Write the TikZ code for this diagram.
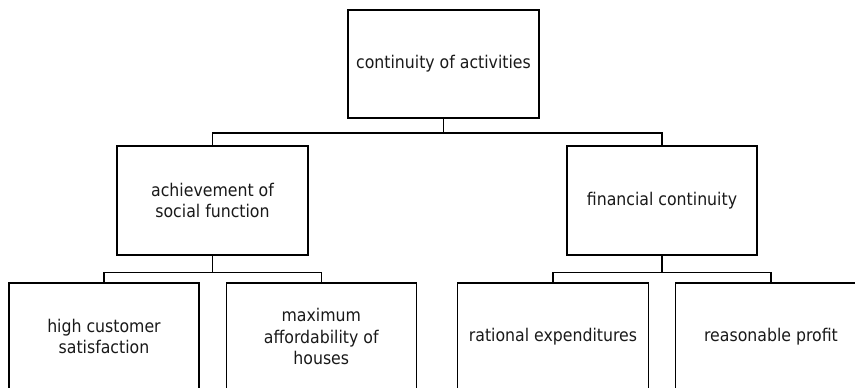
\documentclass[tikz,border=0pt]{standalone}
\usepackage{fontspec}
\setmainfont{DejaVu Sans Condensed}
\begin{document}
\begin{tikzpicture}[x=1pt,y=-1pt,
  box/.style={draw=black, line width=1.4pt, inner sep=0pt, align=center,
    font=\fontsize{17.5}{21.5}\selectfont, text=black!90},
  conn/.style={draw=black, line width=1.4pt}]
\useasboundingbox (0,0) rectangle (855,389);
\clip (0,0) rectangle (855,387.6);
\node[box, minimum width=191pt, minimum height=108pt] (top) at (443.5,64) {continuity of activities};
\node[box, minimum width=191pt, minimum height=109pt] (L) at (212.5,200.5) {achievement of\\social function};
\node[box, minimum width=190pt, minimum height=109pt] (R) at (662,200.5) {financial continuity};
\node[box, minimum width=190pt, minimum height=107pt] (A) at (104,336.5) {high customer\\satisfaction};
\node[box, minimum width=190pt, minimum height=107pt] (B) at (321.3,336.5) {maximum\\affordability of\\houses};
\node[box, minimum width=191pt, minimum height=107pt] (C) at (553,336.5) {rational expenditures};
\node[box, minimum width=191pt, minimum height=107pt] (D) at (771,336.5) {reasonable profit};
\coordinate (j0) at (443.5,133);
\coordinate (j1) at (212.5,272.7);
\coordinate (j2) at (662,272.7);
\draw[conn] (top.south) -- (j0);
\draw[conn] (L.north) |- (j0) -| (R.north);
\draw[conn] (L.south) -- (j1);
\draw[conn] (A.north) |- (j1) -| (B.north);
\draw[conn] (R.south) -- (j2);
\draw[conn] (C.north) |- (j2) -| (D.north);
\end{tikzpicture}
\end{document}
